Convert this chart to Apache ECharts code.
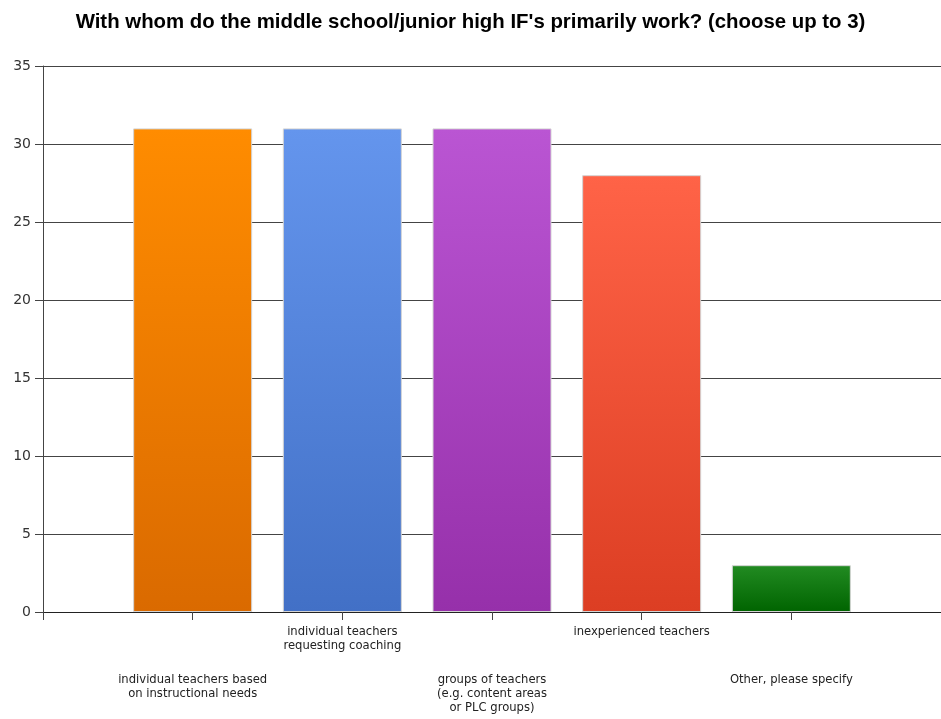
<!DOCTYPE html>
<html><head><meta charset="utf-8">
<script src="https://cdn.jsdelivr.net/npm/echarts@6/dist/echarts.min.js"></script>
<style>html,body{margin:0;padding:0;background:#fff;overflow:hidden}#c{width:941px;height:719px}</style>
</head><body><div id="c"></div>
<script>
const categories = ['', 'individual teachers based\non instructional needs', 'individual teachers\nrequesting coaching', 'groups of teachers\n(e.g. content areas\nor PLC groups)', 'inexperienced teachers', 'Other, please specify', ''];
const values = [null, 31, 31, 31, 28, 3, null];
const topColors = [null, '#FF8C00', '#6495ED', '#BA55D3', '#FF6347', '#228B22', null];
const bottomColors = [null, '#DA6A00', '#4270C6', '#9630AA', '#DC3E23', '#006400', null];
const yTicks = [0, 5, 10, 15, 20, 25, 30, 35];

const chart = echarts.init(document.getElementById('c'));
const data = values.map((v, i) => v == null ? null : {
  value: v,
  itemStyle: {
    color: new echarts.graphic.LinearGradient(0, 0, 0, 1, [
      {offset: 0, color: topColors[i]}, {offset: 1, color: bottomColors[i]}
    ]),
    borderColor: '#d4d4d4', borderWidth: 1
  }
});
chart.setOption({
  animation: false,
  title: {
    text: "With whom do the middle school/junior high IF's primarily work? (choose up to 3)",
    left: 'center', top: 7,
    textStyle: {fontFamily: 'Liberation Sans, Arial', fontSize: 20.4, fontWeight: 'bold', color: '#000'}
  },
  grid: {left: 43, width: 898, top: 66, bottom: 107, containLabel: false, outerBoundsMode: 'none'},
  xAxis: {
    type: 'category', data: categories, boundaryGap: false,
    axisLine: {lineStyle: {color: '#222', width: 1}},
    axisTick: {length: 8, lineStyle: {color: '#444'}, interval: (i) => i < categories.length - 1},
    axisLabel: {
      interval: 0, margin: 13, color: '#222', fontFamily: 'DejaVu Sans, Verdana', fontSize: 11.6, lineHeight: 14,
      formatter: (v, i) => (i % 2 === 1 && v) ? '{gap|\u00a0}\n' + v : v,
      rich: {gap: {lineHeight: 48, fontSize: 11}}
    },
    splitLine: {show: false}
  },
  yAxis: {
    type: 'value', min: yTicks[0], max: yTicks[yTicks.length - 1], interval: 5,
    axisLine: {show: true, lineStyle: {color: '#444', width: 1}},
    axisTick: {show: true, length: 8, lineStyle: {color: '#444'}},
    axisLabel: {margin: 12, color: '#333', fontFamily: 'DejaVu Sans, Verdana', fontSize: 14},
    splitLine: {lineStyle: {color: '#444', width: 1}}
  },
  series: [{
    type: 'bar', data: data, barWidth: 119
  }]
});
</script></body></html>
